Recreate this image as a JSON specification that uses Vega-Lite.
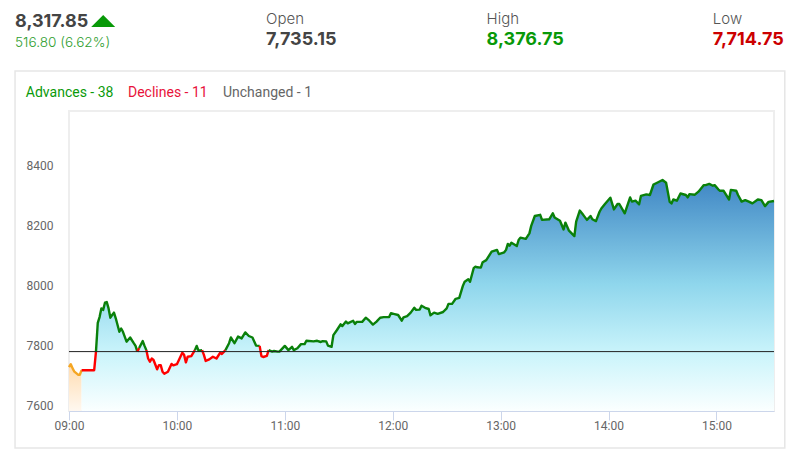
{
  "$schema": "https://vega.github.io/schema/vega-lite/v6.json",
  "description": "Index intraday chart with open, high, low and advances/declines",
  "width": 705,
  "height": 300,
  "autosize": {"type": "none"},
  "padding": {"left": 69, "top": 111, "right": 31, "bottom": 43},
  "background": "white",
  "view": {"stroke": "#eeeeee", "strokeWidth": 2},
  "datasets": {
    "prices": [
      {"minute":540,"value":7726,"side":"pre","run":1},{"minute":541,"value":7736,"side":"pre","run":1},{"minute":542,"value":7722,"side":"pre","run":1},{"minute":543,"value":7711,"side":"pre","run":1},{"minute":545,"value":7701,"side":"pre","run":1},{"minute":546,"value":7701,"side":"pre","run":1},{"minute":547,"value":7716,"side":"pre","run":1},
      {"minute":547,"value":7716,"side":"down","run":2},{"minute":554,"value":7716,"side":"down","run":2},{"minute":555,"value":7778,"side":"down","run":2},
      {"minute":555,"value":7778,"side":"up","run":3},{"minute":556,"value":7874,"side":"up","run":3},{"minute":557,"value":7893,"side":"up","run":3},{"minute":558,"value":7922,"side":"up","run":3},{"minute":559,"value":7917,"side":"up","run":3},{"minute":560,"value":7941,"side":"up","run":3},{"minute":561,"value":7943,"side":"up","run":3},{"minute":562,"value":7922,"side":"up","run":3},{"minute":563,"value":7891,"side":"up","run":3},{"minute":564,"value":7900,"side":"up","run":3},{"minute":565,"value":7908,"side":"up","run":3},{"minute":566,"value":7889,"side":"up","run":3},{"minute":568,"value":7844,"side":"up","run":3},{"minute":569,"value":7855,"side":"up","run":3},{"minute":570,"value":7844,"side":"up","run":3},{"minute":572,"value":7811,"side":"up","run":3},{"minute":574,"value":7825,"side":"up","run":3},{"minute":576,"value":7806,"side":"up","run":3},{"minute":577,"value":7797,"side":"up","run":3},{"minute":578,"value":7778,"side":"up","run":3},
      {"minute":578,"value":7778,"side":"down","run":4},{"minute":579,"value":7790,"side":"down","run":4},
      {"minute":579,"value":7790,"side":"up","run":5},{"minute":581,"value":7813,"side":"up","run":5},{"minute":582,"value":7797,"side":"up","run":5},{"minute":583,"value":7783,"side":"up","run":5},
      {"minute":583,"value":7783,"side":"down","run":6},{"minute":584,"value":7755,"side":"down","run":6},{"minute":585,"value":7744,"side":"down","run":6},{"minute":586,"value":7755,"side":"down","run":6},{"minute":587,"value":7750,"side":"down","run":6},{"minute":589,"value":7719,"side":"down","run":6},{"minute":590,"value":7733,"side":"down","run":6},{"minute":591,"value":7733,"side":"down","run":6},{"minute":592,"value":7711,"side":"down","run":6},{"minute":593,"value":7704,"side":"down","run":6},{"minute":595,"value":7711,"side":"down","run":6},{"minute":597,"value":7737,"side":"down","run":6},{"minute":598,"value":7732,"side":"down","run":6},{"minute":600,"value":7736,"side":"down","run":6},{"minute":603,"value":7774,"side":"down","run":6},{"minute":604,"value":7767,"side":"down","run":6},{"minute":605,"value":7742,"side":"down","run":6},{"minute":606,"value":7761,"side":"down","run":6},{"minute":608,"value":7763,"side":"down","run":6},{"minute":610,"value":7783,"side":"down","run":6},
      {"minute":610,"value":7783,"side":"up","run":7},{"minute":611,"value":7797,"side":"up","run":7},{"minute":612,"value":7781,"side":"up","run":7},{"minute":614,"value":7783,"side":"up","run":7},
      {"minute":614,"value":7783,"side":"down","run":8},{"minute":615,"value":7767,"side":"down","run":8},{"minute":616,"value":7747,"side":"down","run":8},{"minute":618,"value":7752,"side":"down","run":8},{"minute":620,"value":7761,"side":"down","run":8},{"minute":622,"value":7755,"side":"down","run":8},{"minute":624,"value":7774,"side":"down","run":8},{"minute":625,"value":7770,"side":"down","run":8},{"minute":627,"value":7783,"side":"down","run":8},
      {"minute":627,"value":7783,"side":"up","run":9},{"minute":629,"value":7806,"side":"up","run":9},{"minute":630,"value":7825,"side":"up","run":9},{"minute":632,"value":7806,"side":"up","run":9},{"minute":634,"value":7828,"side":"up","run":9},{"minute":636,"value":7822,"side":"up","run":9},{"minute":638,"value":7842,"side":"up","run":9},{"minute":640,"value":7830,"side":"up","run":9},{"minute":642,"value":7825,"side":"up","run":9},{"minute":644,"value":7798,"side":"up","run":9},{"minute":646,"value":7797,"side":"up","run":9},
      {"minute":646,"value":7797,"side":"down","run":10},{"minute":647,"value":7763,"side":"down","run":10},{"minute":648,"value":7760,"side":"down","run":10},{"minute":650,"value":7764,"side":"down","run":10},{"minute":651,"value":7783,"side":"down","run":10},
      {"minute":651,"value":7783,"side":"up","run":11},{"minute":653,"value":7778,"side":"up","run":11},{"minute":654,"value":7780,"side":"up","run":11},{"minute":656,"value":7778,"side":"up","run":11},{"minute":657,"value":7778,"side":"up","run":11},{"minute":660,"value":7797,"side":"up","run":11},{"minute":662,"value":7783,"side":"up","run":11},{"minute":664,"value":7794,"side":"up","run":11},{"minute":665,"value":7783,"side":"up","run":11},{"minute":667,"value":7789,"side":"up","run":11},{"minute":669,"value":7803,"side":"up","run":11},{"minute":671,"value":7803,"side":"up","run":11},{"minute":672,"value":7814,"side":"up","run":11},{"minute":676,"value":7812,"side":"up","run":11},{"minute":678,"value":7814,"side":"up","run":11},{"minute":680,"value":7810,"side":"up","run":11},{"minute":681,"value":7813,"side":"up","run":11},{"minute":683,"value":7812,"side":"up","run":11},{"minute":684,"value":7798,"side":"up","run":11},{"minute":686,"value":7794,"side":"up","run":11},{"minute":687,"value":7833,"side":"up","run":11},{"minute":689,"value":7850,"side":"up","run":11},{"minute":691,"value":7869,"side":"up","run":11},{"minute":692,"value":7863,"side":"up","run":11},{"minute":694,"value":7878,"side":"up","run":11},{"minute":695,"value":7872,"side":"up","run":11},{"minute":698,"value":7881,"side":"up","run":11},{"minute":699,"value":7870,"side":"up","run":11},{"minute":700,"value":7877,"side":"up","run":11},{"minute":703,"value":7877,"side":"up","run":11},{"minute":705,"value":7891,"side":"up","run":11},{"minute":707,"value":7881,"side":"up","run":11},{"minute":709,"value":7868,"side":"up","run":11},{"minute":711,"value":7878,"side":"up","run":11},{"minute":713,"value":7891,"side":"up","run":11},{"minute":715,"value":7893,"side":"up","run":11},{"minute":718,"value":7893,"side":"up","run":11},{"minute":719,"value":7906,"side":"up","run":11},{"minute":721,"value":7903,"side":"up","run":11},{"minute":723,"value":7900,"side":"up","run":11},{"minute":725,"value":7881,"side":"up","run":11},{"minute":726,"value":7892,"side":"up","run":11},{"minute":728,"value":7896,"side":"up","run":11},{"minute":730,"value":7908,"side":"up","run":11},{"minute":732,"value":7924,"side":"up","run":11},{"minute":733,"value":7917,"side":"up","run":11},{"minute":735,"value":7918,"side":"up","run":11},{"minute":736,"value":7931,"side":"up","run":11},{"minute":738,"value":7924,"side":"up","run":11},{"minute":740,"value":7920,"side":"up","run":11},{"minute":741,"value":7899,"side":"up","run":11},{"minute":743,"value":7908,"side":"up","run":11},{"minute":745,"value":7904,"side":"up","run":11},{"minute":748,"value":7910,"side":"up","run":11},{"minute":750,"value":7922,"side":"up","run":11},{"minute":751,"value":7937,"side":"up","run":11},{"minute":753,"value":7937,"side":"up","run":11},{"minute":755,"value":7954,"side":"up","run":11},{"minute":757,"value":7957,"side":"up","run":11},{"minute":759,"value":7997,"side":"up","run":11},{"minute":760,"value":8011,"side":"up","run":11},{"minute":762,"value":8019,"side":"up","run":11},{"minute":763,"value":8011,"side":"up","run":11},{"minute":765,"value":8056,"side":"up","run":11},{"minute":766,"value":8061,"side":"up","run":11},{"minute":767,"value":8059,"side":"up","run":11},{"minute":769,"value":8058,"side":"up","run":11},{"minute":770,"value":8076,"side":"up","run":11},{"minute":772,"value":8083,"side":"up","run":11},{"minute":775,"value":8111,"side":"up","run":11},{"minute":778,"value":8117,"side":"up","run":11},{"minute":779,"value":8103,"side":"up","run":11},{"minute":782,"value":8109,"side":"up","run":11},{"minute":783,"value":8117,"side":"up","run":11},{"minute":784,"value":8137,"side":"up","run":11},{"minute":785,"value":8131,"side":"up","run":11},{"minute":786,"value":8141,"side":"up","run":11},{"minute":789,"value":8130,"side":"up","run":11},{"minute":790,"value":8150,"side":"up","run":11},{"minute":791,"value":8158,"side":"up","run":11},{"minute":794,"value":8154,"side":"up","run":11},{"minute":796,"value":8172,"side":"up","run":11},{"minute":797,"value":8197,"side":"up","run":11},{"minute":799,"value":8230,"side":"up","run":11},{"minute":802,"value":8234,"side":"up","run":11},{"minute":803,"value":8217,"side":"up","run":11},{"minute":807,"value":8219,"side":"up","run":11},{"minute":809,"value":8239,"side":"up","run":11},{"minute":810,"value":8225,"side":"up","run":11},{"minute":813,"value":8214,"side":"up","run":11},{"minute":815,"value":8185,"side":"up","run":11},{"minute":816,"value":8208,"side":"up","run":11},{"minute":818,"value":8181,"side":"up","run":11},{"minute":821,"value":8163,"side":"up","run":11},{"minute":822,"value":8211,"side":"up","run":11},{"minute":824,"value":8248,"side":"up","run":11},{"minute":826,"value":8233,"side":"up","run":11},{"minute":828,"value":8217,"side":"up","run":11},{"minute":830,"value":8230,"side":"up","run":11},{"minute":831,"value":8219,"side":"up","run":11},{"minute":833,"value":8213,"side":"up","run":11},{"minute":835,"value":8244,"side":"up","run":11},{"minute":836,"value":8255,"side":"up","run":11},{"minute":838,"value":8270,"side":"up","run":11},{"minute":841,"value":8291,"side":"up","run":11},{"minute":843,"value":8252,"side":"up","run":11},{"minute":845,"value":8270,"side":"up","run":11},{"minute":846,"value":8270,"side":"up","run":11},{"minute":849,"value":8239,"side":"up","run":11},{"minute":852,"value":8292,"side":"up","run":11},{"minute":853,"value":8278,"side":"up","run":11},{"minute":855,"value":8281,"side":"up","run":11},{"minute":857,"value":8269,"side":"up","run":11},{"minute":858,"value":8297,"side":"up","run":11},{"minute":861,"value":8302,"side":"up","run":11},{"minute":863,"value":8300,"side":"up","run":11},{"minute":865,"value":8335,"side":"up","run":11},{"minute":867,"value":8341,"side":"up","run":11},{"minute":870,"value":8350,"side":"up","run":11},{"minute":872,"value":8341,"side":"up","run":11},{"minute":874,"value":8277,"side":"up","run":11},{"minute":875,"value":8272,"side":"up","run":11},{"minute":876,"value":8285,"side":"up","run":11},{"minute":878,"value":8281,"side":"up","run":11},{"minute":880,"value":8305,"side":"up","run":11},{"minute":883,"value":8300,"side":"up","run":11},{"minute":884,"value":8292,"side":"up","run":11},{"minute":885,"value":8303,"side":"up","run":11},{"minute":888,"value":8301,"side":"up","run":11},{"minute":890,"value":8311,"side":"up","run":11},{"minute":893,"value":8333,"side":"up","run":11},{"minute":894,"value":8333,"side":"up","run":11},{"minute":896,"value":8337,"side":"up","run":11},{"minute":898,"value":8331,"side":"up","run":11},{"minute":899,"value":8333,"side":"up","run":11},{"minute":901,"value":8319,"side":"up","run":11},{"minute":902,"value":8314,"side":"up","run":11},{"minute":904,"value":8314,"side":"up","run":11},{"minute":907,"value":8285,"side":"up","run":11},{"minute":908,"value":8317,"side":"up","run":11},{"minute":911,"value":8314,"side":"up","run":11},{"minute":912,"value":8300,"side":"up","run":11},{"minute":914,"value":8278,"side":"up","run":11},{"minute":916,"value":8283,"side":"up","run":11},{"minute":918,"value":8278,"side":"up","run":11},{"minute":920,"value":8272,"side":"up","run":11},{"minute":923,"value":8285,"side":"up","run":11},{"minute":925,"value":8283,"side":"up","run":11},{"minute":927,"value":8263,"side":"up","run":11},{"minute":929,"value":8277,"side":"up","run":11},{"minute":932,"value":8280,"side":"up","run":11}
    ]
  },
  "layer": [
    {
      "data": {"values": [{"panel": "frame"}]},
      "mark": {"type": "rect", "fill": null, "stroke": "#e6e6e6", "strokeWidth": 1.5},
      "encoding": {
        "x": {"datum": 510, "type": "quantitative"},
        "x2": {"datum": 938},
        "y": {"datum": 8713, "type": "quantitative"},
        "y2": {"datum": 7457}
      }
    },
    {
      "data": {"name": "prices"},
      "transform": [{"filter": "datum.side === 'pre'"}],
      "mark": {
        "type": "area",
        "color": {"gradient": "linear", "x1": 0, "y1": 0, "x2": 0, "y2": 1, "stops": [{"offset": 0, "color": "#ffdcb0"}, {"offset": 1, "color": "#fff8f0"}]}
      },
      "encoding": {
        "x": {"field": "minute", "type": "quantitative"},
        "y": {"field": "value", "type": "quantitative"},
        "y2": {"datum": 7580}
      }
    },
    {
      "data": {"name": "prices"},
      "transform": [{"filter": "datum.side !== 'pre'"}],
      "mark": {
        "type": "area",
        "color": {"gradient": "linear", "x1": 0, "y1": 0, "x2": 0, "y2": 1, "stops": [{"offset": 0, "color": "#3f86c4"}, {"offset": 0.45, "color": "#8fd6ec"}, {"offset": 0.75, "color": "#caf4fb"}, {"offset": 1, "color": "#fbffff"}]}
      },
      "encoding": {
        "x": {"field": "minute", "type": "quantitative"},
        "y": {"field": "value", "type": "quantitative"},
        "y2": {"datum": 7580}
      }
    },
    {
      "data": {"name": "prices"},
      "mark": {"type": "line", "strokeWidth": 2.4, "strokeJoin": "round"},
      "encoding": {
        "x": {
          "field": "minute",
          "type": "quantitative",
          "title": null,
          "scale": {"domain": [540, 932], "nice": false, "zero": false},
          "axis": {
            "values": [540, 600, 660, 720, 780, 840, 900],
            "grid": false,
            "labelExpr": "format(floor(datum.value / 60), '02d') + ':00'",
            "labelFlush": false,
            "labelFont": "Roboto",
            "labelFontSize": 12,
            "labelColor": "#666666",
            "labelPadding": 0,
            "domainColor": "#ccd6eb",
            "tickColor": "#ccd6eb",
            "tickSize": 9
          }
        },
        "y": {
          "field": "value",
          "type": "quantitative",
          "title": null,
          "scale": {"domain": [7580, 8580], "zero": false, "nice": false},
          "axis": {
            "values": [7600, 7800, 8000, 8200, 8400],
            "grid": false,
            "format": "d",
            "domain": false,
            "ticks": false,
            "labelFont": "Roboto",
            "labelFontSize": 12,
            "labelColor": "#666666",
            "labelPadding": 16
          }
        },
        "detail": {"field": "run", "type": "nominal"},
        "color": {
          "field": "side",
          "type": "nominal",
          "legend": null,
          "scale": {"domain": ["pre", "down", "up"], "range": ["#f5a623", "#ff0000", "#0a800a"]}
        }
      }
    },
    {
      "data": {"values": [{"previous_close": 7778}]},
      "mark": {"type": "rule", "color": "#222222", "strokeWidth": 1},
      "encoding": {
        "x": {"datum": 540, "type": "quantitative"},
        "x2": {"datum": 932},
        "y": {"field": "previous_close", "type": "quantitative"}
      }
    },
    {
      "data": {"values": [{"label": "8,317.85"}]},
      "mark": {"type": "text", "align": "left", "baseline": "alphabetic", "font": "Inter", "fontSize": 18, "fontWeight": 700, "color": "#444444"},
      "encoding": {"text": {"field": "label"}, "x": {"datum": 510, "type": "quantitative"}, "y": {"datum": 8860, "type": "quantitative"}}
    },
    {
      "data": {"values": [{"direction": "up"}]},
      "mark": {"type": "point", "shape": "M-1,0.5L1,0.5L0,-0.5Z", "filled": true, "size": 576, "color": "#089908", "opacity": 1},
      "encoding": {"x": {"datum": 559, "type": "quantitative"}, "y": {"datum": 8880, "type": "quantitative"}}
    },
    {
      "data": {"values": [{"label": "516.80 (6.62%)"}]},
      "mark": {"type": "text", "align": "left", "baseline": "alphabetic", "font": "Inter", "fontSize": 13.6, "fontWeight": 300, "color": "#2f9e2f"},
      "encoding": {"text": {"field": "label"}, "x": {"datum": 510, "type": "quantitative"}, "y": {"datum": 8793, "type": "quantitative"}}
    },
    {
      "data": {"values": [{"label": "Open"}]},
      "mark": {"type": "text", "align": "left", "baseline": "alphabetic", "font": "Inter", "fontSize": 15, "fontWeight": 300, "color": "#555555"},
      "encoding": {"text": {"field": "label"}, "x": {"datum": 649.6, "type": "quantitative"}, "y": {"datum": 8870, "type": "quantitative"}}
    },
    {
      "data": {"values": [{"label": "7,735.15"}]},
      "mark": {"type": "text", "align": "left", "baseline": "alphabetic", "font": "Inter", "fontSize": 18, "fontWeight": 700, "color": "#444444"},
      "encoding": {"text": {"field": "label"}, "x": {"datum": 649.6, "type": "quantitative"}, "y": {"datum": 8800, "type": "quantitative"}}
    },
    {
      "data": {"values": [{"label": "High"}]},
      "mark": {"type": "text", "align": "left", "baseline": "alphabetic", "font": "Inter", "fontSize": 15, "fontWeight": 300, "color": "#555555"},
      "encoding": {"text": {"field": "label"}, "x": {"datum": 772.2, "type": "quantitative"}, "y": {"datum": 8870, "type": "quantitative"}}
    },
    {
      "data": {"values": [{"label": "8,376.75"}]},
      "mark": {"type": "text", "align": "left", "baseline": "alphabetic", "font": "Inter", "fontSize": 18, "fontWeight": 700, "color": "#089908"},
      "encoding": {"text": {"field": "label"}, "x": {"datum": 772.2, "type": "quantitative"}, "y": {"datum": 8800, "type": "quantitative"}}
    },
    {
      "data": {"values": [{"label": "Low"}]},
      "mark": {"type": "text", "align": "left", "baseline": "alphabetic", "font": "Inter", "fontSize": 15, "fontWeight": 300, "color": "#555555"},
      "encoding": {"text": {"field": "label"}, "x": {"datum": 898, "type": "quantitative"}, "y": {"datum": 8870, "type": "quantitative"}}
    },
    {
      "data": {"values": [{"label": "7,714.75"}]},
      "mark": {"type": "text", "align": "left", "baseline": "alphabetic", "font": "Inter", "fontSize": 18, "fontWeight": 700, "color": "#cc0000"},
      "encoding": {"text": {"field": "label"}, "x": {"datum": 898, "type": "quantitative"}, "y": {"datum": 8800, "type": "quantitative"}}
    },
    {
      "data": {"values": [{"label": "Advances - 38"}]},
      "mark": {"type": "text", "align": "left", "baseline": "alphabetic", "font": "Roboto", "fontSize": 14, "color": "#0a9a0a"},
      "encoding": {"text": {"field": "label"}, "x": {"datum": 516, "type": "quantitative"}, "y": {"datum": 8627, "type": "quantitative"}}
    },
    {
      "data": {"values": [{"label": "Declines - 11"}]},
      "mark": {"type": "text", "align": "left", "baseline": "alphabetic", "font": "Roboto", "fontSize": 14, "color": "#e8123a"},
      "encoding": {"text": {"field": "label"}, "x": {"datum": 572.8, "type": "quantitative"}, "y": {"datum": 8627, "type": "quantitative"}}
    },
    {
      "data": {"values": [{"label": "Unchanged - 1"}]},
      "mark": {"type": "text", "align": "left", "baseline": "alphabetic", "font": "Roboto", "fontSize": 14, "color": "#666666"},
      "encoding": {"text": {"field": "label"}, "x": {"datum": 625.6, "type": "quantitative"}, "y": {"datum": 8627, "type": "quantitative"}}
    }
  ]
}
